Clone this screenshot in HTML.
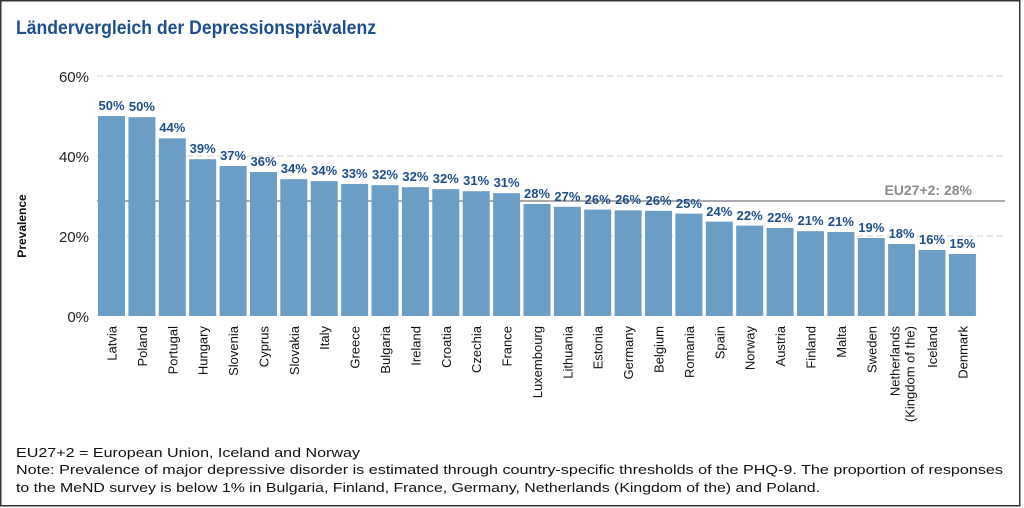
<!DOCTYPE html>
<html><head><meta charset="utf-8"><style>body{margin:0;background:#fff}svg{display:block}</style></head><body>
<svg width="1024" height="508" viewBox="0 0 1024 508" xmlns="http://www.w3.org/2000/svg" font-family="Liberation Sans, sans-serif">
<rect x="0.75" y="0.75" width="1019" height="505" fill="#fff" stroke="#333" stroke-width="1.5"/>
<text x="16" y="34" font-size="19" font-weight="bold" fill="#1d4f8c" textLength="360" lengthAdjust="spacingAndGlyphs">Ländervergleich der Depressionsprävalenz</text>
<g stroke="#ccc" stroke-dasharray="6,4" stroke-width="1">
<line x1="97" y1="76" x2="1005" y2="76"/><line x1="97" y1="156" x2="1005" y2="156"/><line x1="97" y1="236" x2="1005" y2="236"/>
</g>
<g font-size="15" fill="#222" text-anchor="end">
<text x="89" y="82">60%</text><text x="89" y="162">40%</text><text x="89" y="242">20%</text><text x="89" y="322">0%</text>
</g>
<text transform="translate(26,226) rotate(-90)" font-size="12" font-weight="bold" text-anchor="middle" fill="#111">Prevalence</text>
<line x1="97" y1="201" x2="1005" y2="201" stroke="#aaa" stroke-width="2"/>
<text x="972" y="195" font-size="14" font-weight="bold" fill="#8a8a8a" text-anchor="end">EU27+2: 28%</text>
<g fill="#6a9ec6">
<rect x="98.0" y="116" width="27" height="200"/>
<rect x="128.4" y="117.2" width="27" height="198.8"/>
<rect x="158.8" y="138.4" width="27" height="177.6"/>
<rect x="189.2" y="159.2" width="27" height="156.8"/>
<rect x="219.6" y="166" width="27" height="150"/>
<rect x="250.0" y="172" width="27" height="144"/>
<rect x="280.3" y="179.2" width="27" height="136.8"/>
<rect x="310.7" y="181.2" width="27" height="134.8"/>
<rect x="341.1" y="184" width="27" height="132"/>
<rect x="371.5" y="185.2" width="27" height="130.8"/>
<rect x="401.9" y="187.2" width="27" height="128.8"/>
<rect x="432.3" y="189.2" width="27" height="126.8"/>
<rect x="462.7" y="191.2" width="27" height="124.8"/>
<rect x="493.1" y="193.2" width="27" height="122.8"/>
<rect x="523.5" y="204" width="27" height="112"/>
<rect x="553.9" y="206.8" width="27" height="109.2"/>
<rect x="584.2" y="209.6" width="27" height="106.4"/>
<rect x="614.6" y="210.4" width="27" height="105.6"/>
<rect x="645.0" y="210.8" width="27" height="105.2"/>
<rect x="675.4" y="213.6" width="27" height="102.4"/>
<rect x="705.8" y="221.6" width="27" height="94.4"/>
<rect x="736.2" y="225.6" width="27" height="90.4"/>
<rect x="766.6" y="228" width="27" height="88"/>
<rect x="797.0" y="231.2" width="27" height="84.8"/>
<rect x="827.4" y="232" width="27" height="84"/>
<rect x="857.8" y="238" width="27" height="78"/>
<rect x="888.1" y="244" width="27" height="72"/>
<rect x="918.5" y="250" width="27" height="66"/>
<rect x="948.9" y="254" width="27" height="62"/>
</g>
<g font-size="13" font-weight="bold" fill="#1d4f8c" text-anchor="middle">
<text x="111.5" y="110">50%</text>
<text x="141.9" y="111">50%</text>
<text x="172.3" y="132">44%</text>
<text x="202.7" y="153">39%</text>
<text x="233.1" y="160">37%</text>
<text x="263.5" y="166">36%</text>
<text x="293.8" y="173">34%</text>
<text x="324.2" y="175">34%</text>
<text x="354.6" y="178">33%</text>
<text x="385.0" y="179">32%</text>
<text x="415.4" y="181">32%</text>
<text x="445.8" y="183">32%</text>
<text x="476.2" y="185">31%</text>
<text x="506.6" y="187">31%</text>
<text x="537.0" y="198">28%</text>
<text x="567.4" y="201">27%</text>
<text x="597.7" y="204">26%</text>
<text x="628.1" y="204">26%</text>
<text x="658.5" y="205">26%</text>
<text x="688.9" y="208">25%</text>
<text x="719.3" y="216">24%</text>
<text x="749.7" y="220">22%</text>
<text x="780.1" y="222">22%</text>
<text x="810.5" y="225">21%</text>
<text x="840.9" y="226">21%</text>
<text x="871.3" y="232">19%</text>
<text x="901.6" y="238">18%</text>
<text x="932.0" y="244">16%</text>
<text x="962.4" y="248">15%</text>
</g>
<g font-size="13" fill="#111" text-anchor="end">
<text transform="translate(116.5,326) rotate(-90)">Latvia</text>
<text transform="translate(146.9,326) rotate(-90)">Poland</text>
<text transform="translate(177.3,326) rotate(-90)">Portugal</text>
<text transform="translate(207.7,326) rotate(-90)">Hungary</text>
<text transform="translate(238.1,326) rotate(-90)">Slovenia</text>
<text transform="translate(268.5,326) rotate(-90)">Cyprus</text>
<text transform="translate(298.8,326) rotate(-90)">Slovakia</text>
<text transform="translate(329.2,326) rotate(-90)">Italy</text>
<text transform="translate(359.6,326) rotate(-90)">Greece</text>
<text transform="translate(390.0,326) rotate(-90)">Bulgaria</text>
<text transform="translate(420.4,326) rotate(-90)">Ireland</text>
<text transform="translate(450.8,326) rotate(-90)">Croatia</text>
<text transform="translate(481.2,326) rotate(-90)">Czechia</text>
<text transform="translate(511.6,326) rotate(-90)">France</text>
<text transform="translate(542.0,326) rotate(-90)">Luxembourg</text>
<text transform="translate(572.4,326) rotate(-90)">Lithuania</text>
<text transform="translate(602.7,326) rotate(-90)">Estonia</text>
<text transform="translate(633.1,326) rotate(-90)">Germany</text>
<text transform="translate(663.5,326) rotate(-90)">Belgium</text>
<text transform="translate(693.9,326) rotate(-90)">Romania</text>
<text transform="translate(724.3,326) rotate(-90)">Spain</text>
<text transform="translate(754.7,326) rotate(-90)">Norway</text>
<text transform="translate(785.1,326) rotate(-90)">Austria</text>
<text transform="translate(815.5,326) rotate(-90)">Finland</text>
<text transform="translate(845.9,326) rotate(-90)">Malta</text>
<text transform="translate(876.3,326) rotate(-90)">Sweden</text>
<text transform="translate(899.6,326) rotate(-90)">Netherlands</text>
<text transform="translate(914.6,326) rotate(-90)">(Kingdom of the)</text>
<text transform="translate(937.0,326) rotate(-90)">Iceland</text>
<text transform="translate(967.4,326) rotate(-90)">Denmark</text>
</g>
<g font-size="13" fill="#111">
<text x="16" y="457" textLength="344" lengthAdjust="spacingAndGlyphs">EU27+2 = European Union, Iceland and Norway</text>
<text x="16" y="474" textLength="987" lengthAdjust="spacingAndGlyphs">Note: Prevalence of major depressive disorder is estimated through country-specific thresholds of the PHQ-9. The proportion of responses</text>
<text x="16" y="492" textLength="804" lengthAdjust="spacingAndGlyphs">to the MeND survey is below 1% in Bulgaria, Finland, France, Germany, Netherlands (Kingdom of the) and Poland.</text>
</g>
</svg>
</body></html>
